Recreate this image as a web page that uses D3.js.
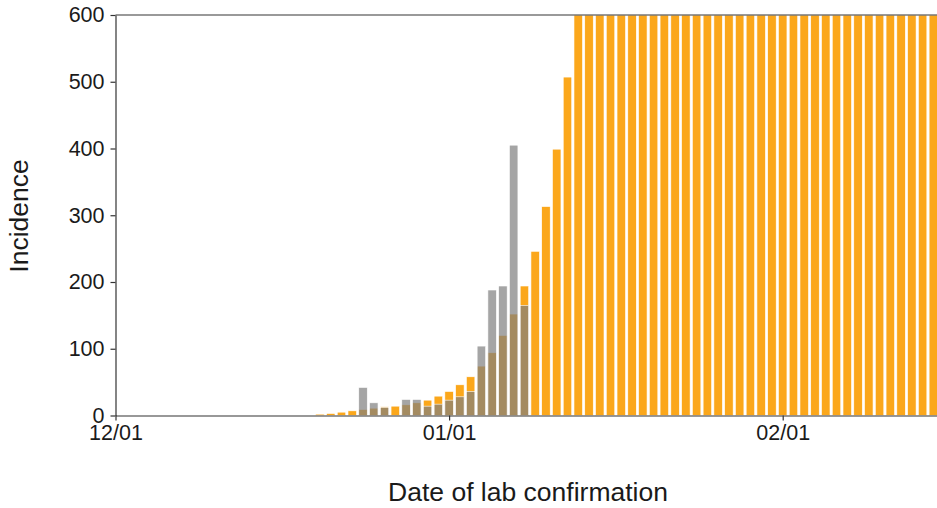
<!DOCTYPE html>
<html>
<head>
<meta charset="utf-8">
<script src="https://cdn.jsdelivr.net/npm/d3@7"></script>
<style>
  body { margin: 0; background: #fff; }
  svg { display: block; font-family: "Liberation Sans", Arial, sans-serif; }
  .axis text { font-size: 21.5px; fill: #1a1a1a; }
  .axis path, .axis line { stroke: #333; stroke-width: 1.2; }
</style>
</head>
<body>
<div id="chart"></div>
<script>
// confirmed cases by date (orange) and reported cases (grey)
var orangeDates = ["2019-12-20", "2019-12-21", "2019-12-22", "2019-12-23", "2019-12-24",
  "2019-12-25", "2019-12-26", "2019-12-27", "2019-12-28", "2019-12-29", "2019-12-30",
  "2019-12-31", "2020-01-01", "2020-01-02", "2020-01-03", "2020-01-04", "2020-01-05",
  "2020-01-06", "2020-01-07", "2020-01-08", "2020-01-09", "2020-01-10", "2020-01-11",
  "2020-01-12", "2020-01-13", "2020-01-14", "2020-01-15", "2020-01-16", "2020-01-17",
  "2020-01-18", "2020-01-19", "2020-01-20", "2020-01-21", "2020-01-22", "2020-01-23",
  "2020-01-24", "2020-01-25", "2020-01-26", "2020-01-27", "2020-01-28", "2020-01-29",
  "2020-01-30", "2020-01-31", "2020-02-01", "2020-02-02", "2020-02-03", "2020-02-04",
  "2020-02-05", "2020-02-06", "2020-02-07", "2020-02-08", "2020-02-09", "2020-02-10",
  "2020-02-11", "2020-02-12", "2020-02-13", "2020-02-14", "2020-02-15", "2020-02-16"];
var orangeValues = [2, 3, 5, 7, 9,
  11, 13, 14, 16, 19, 23,
  29, 36, 46, 58, 74, 94,
  120, 152, 194, 246, 313, 399,
  507, 645, 820, 1040, 1320, 1680,
  2130, 2700, 3400, 4300, 5400, 6800,
  8500, 10500, 13000, 16000, 19500, 23500,
  28000, 33000, 38500, 44000, 50000, 56000,
  62000, 68000, 74000, 80000, 86000, 92000,
  98000, 104000, 110000, 116000, 122000, 128000];

var greyDates = ["2019-12-24", "2019-12-25", "2019-12-26", "2019-12-27", "2019-12-28",
  "2019-12-29", "2019-12-30", "2019-12-31", "2020-01-01", "2020-01-02", "2020-01-03",
  "2020-01-04", "2020-01-05", "2020-01-06", "2020-01-07", "2020-01-08"];
var greyValues = [42, 19, 12, 0, 24,
  24, 14, 17, 23, 28, 36,
  104, 188, 194, 405, 165];

var yTicks = [0, 100, 200, 300, 400, 500, 600];

var parseDate = d3.timeParse("%Y-%m-%d");
var xTicks = ["2019-12-01", "2020-01-01", "2020-02-01"].map(parseDate);

var W = 937, H = 508;
var plotLeft = 115.5, plotTop = 15, plotBottom = 415.5;

// scale set from the two outer ticks, then stretched to the right edge
var x = d3.scaleTime()
    .domain([xTicks[0], xTicks[2]])
    .range([plotLeft, 782.7]);
x.domain([xTicks[0], x.invert(W + 5)]).range([plotLeft, W + 5]);

var y = d3.scaleLinear().domain([0, 600]).range([plotBottom, plotTop]);

var dayW = x(parseDate("2020-01-02")) - x(parseDate("2020-01-01"));
var barW = dayW * 0.79;

var svg = d3.select("#chart").append("svg")
    .attr("width", W)
    .attr("height", H);

svg.append("clipPath")
    .attr("id", "clip")
    .append("rect")
    .attr("x", plotLeft)
    .attr("y", plotTop)
    .attr("width", W - plotLeft + 10)
    .attr("height", plotBottom - plotTop);

var bars = svg.append("g").attr("clip-path", "url(#clip)");

var orange = orangeDates.map(function(d, i) { return {date: parseDate(d), value: orangeValues[i]}; });
var grey = greyDates.map(function(d, i) { return {date: parseDate(d), value: greyValues[i]}; });

bars.selectAll(".orange")
    .data(orange)
    .enter().append("rect")
    .attr("class", "orange")
    .attr("x", function(d) { return x(d.date) - barW / 2; })
    .attr("width", barW)
    .attr("y", function(d) { return y(Math.min(d.value, 620)); })
    .attr("height", function(d) { return y(0) - y(Math.min(d.value, 620)); })
    .style("fill", "#fba71b")
    .style("stroke", "#fff")
    .style("stroke-width", 0.6);

bars.selectAll(".grey")
    .data(grey.filter(function(d) { return d.value > 0; }))
    .enter().append("rect")
    .attr("class", "grey")
    .attr("x", function(d) { return x(d.date) - barW / 2; })
    .attr("width", barW)
    .attr("y", function(d) { return y(d.value); })
    .attr("height", function(d) { return y(0) - y(d.value); })
    .style("fill", "#7f7f7f")
    .style("fill-opacity", 0.7)
    .style("stroke", "#fff")
    .style("stroke-width", 0.6);

// top border
svg.append("line")
    .attr("x1", plotLeft).attr("x2", W)
    .attr("y1", plotTop).attr("y2", plotTop)
    .style("stroke", "#777")
    .style("stroke-width", 1.5);

svg.append("g")
    .attr("class", "axis")
    .attr("transform", "translate(0," + plotBottom + ")")
    .call(d3.axisBottom(x)
        .tickValues(xTicks)
        .tickFormat(d3.timeFormat("%m/%d"))
        .tickSize(5)
        .tickSizeOuter(0)
        .tickPadding(4));

svg.append("g")
    .attr("class", "axis")
    .attr("transform", "translate(" + plotLeft + ",0)")
    .call(d3.axisLeft(y)
        .tickValues(yTicks)
        .tickSize(5)
        .tickSizeOuter(0)
        .tickPadding(6));

svg.append("text")
    .attr("x", 528)
    .attr("y", 501)
    .attr("text-anchor", "middle")
    .style("font-size", "26.5px")
    .style("fill", "#1a1a1a")
    .text("Date of lab confirmation");

svg.append("text")
    .attr("transform", "translate(28,216) rotate(-90)")
    .attr("text-anchor", "middle")
    .style("font-size", "26.5px")
    .style("fill", "#1a1a1a")
    .text("Incidence");
</script>
</body>
</html>
